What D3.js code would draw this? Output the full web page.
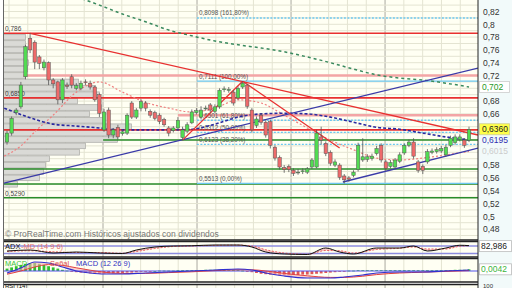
<!DOCTYPE html>
<html><head><meta charset="utf-8">
<script src="https://cdn.jsdelivr.net/npm/d3@7"></script>
<style>body{margin:0;background:#fff}svg{display:block;font-family:"Liberation Sans",Arial,sans-serif}</style>
</head><body><svg id="chart"></svg>
<script>
// candles
var opens  = [0.616,0.630,0.662,0.671,0.718,0.778,0.772,0.749,0.732,0.740,0.713,0.710,0.682,0.705,0.718,0.700,0.700,0.710,0.708,0.702,
  0.690,0.635,0.666,0.627,0.639,0.629,0.630,0.677,0.655,0.669,0.677,0.664,0.662,0.658,0.651,0.638,0.634,0.638,0.623,0.633,
  0.646,0.662,0.655,0.668,0.674,0.664,0.671,0.698,0.697,0.694,0.685,0.702,0.705,0.666,0.642,0.658,0.647,0.648,0.608,0.592,
  0.576,0.578,0.572,0.569,0.570,0.569,0.577,0.577,0.624,0.614,0.600,0.580,0.580,0.563,0.560,0.564,0.573,0.588,0.589,0.590,
  0.598,0.611,0.585,0.578,0.577,0.586,0.599,0.611,0.616,0.585,0.578,0.585,0.600,0.601,0.602,0.596,0.611,0.615,0.620,0.619,0.619];
var closes = [0.630,0.653,0.666,0.705,0.765,0.760,0.741,0.739,0.741,0.713,0.707,0.682,0.713,0.703,0.705,0.704,0.708,0.709,0.702,0.682,
  0.661,0.663,0.627,0.635,0.624,0.632,0.658,0.655,0.666,0.679,0.669,0.658,0.653,0.648,0.643,0.630,0.638,0.650,0.635,0.643,
  0.663,0.665,0.666,0.669,0.666,0.671,0.697,0.699,0.698,0.677,0.700,0.708,0.672,0.635,0.652,0.647,0.627,0.611,0.591,0.577,
  0.573,0.573,0.567,0.569,0.571,0.574,0.588,0.630,0.619,0.598,0.583,0.585,0.561,0.557,0.558,0.569,0.611,0.593,0.593,0.594,
  0.606,0.588,0.575,0.584,0.588,0.596,0.611,0.616,0.594,0.572,0.572,0.601,0.602,0.604,0.606,0.608,0.622,0.624,0.624,0.611,0.636];
var highs  = [0.634,0.656,0.669,0.710,0.768,0.786,0.775,0.752,0.745,0.742,0.716,0.712,0.716,0.709,0.722,0.708,0.712,0.714,0.712,0.704,
  0.692,0.668,0.670,0.638,0.643,0.636,0.661,0.680,0.669,0.683,0.680,0.667,0.665,0.661,0.654,0.641,0.641,0.655,0.640,0.647,
  0.667,0.669,0.672,0.673,0.677,0.675,0.700,0.703,0.702,0.697,0.703,0.7111,0.707,0.669,0.656,0.661,0.650,0.651,0.611,0.595,
  0.580,0.581,0.575,0.574,0.575,0.577,0.591,0.635,0.640,0.617,0.603,0.589,0.583,0.566,0.563,0.572,0.615,0.622,0.597,0.598,
  0.610,0.614,0.588,0.588,0.591,0.600,0.614,0.620,0.622,0.588,0.581,0.605,0.606,0.608,0.610,0.612,0.626,0.628,0.628,0.622,0.640];
var lows   = [0.612,0.626,0.658,0.668,0.714,0.755,0.730,0.730,0.728,0.705,0.700,0.675,0.677,0.699,0.700,0.697,0.697,0.705,0.698,0.679,
  0.655,0.632,0.622,0.622,0.620,0.626,0.627,0.652,0.652,0.664,0.664,0.654,0.650,0.644,0.640,0.625,0.631,0.634,0.619,0.630,
  0.644,0.659,0.652,0.665,0.662,0.661,0.668,0.694,0.693,0.673,0.682,0.699,0.668,0.631,0.638,0.643,0.623,0.606,0.587,0.573,
  0.568,0.569,0.563,0.565,0.566,0.566,0.574,0.575,0.612,0.594,0.579,0.577,0.557,0.5513,0.554,0.561,0.570,0.585,0.585,0.587,
  0.595,0.584,0.571,0.575,0.574,0.583,0.596,0.608,0.590,0.568,0.566,0.582,0.597,0.598,0.599,0.593,0.608,0.612,0.617,0.607,0.616];

// moving averages as [candle index, value]
var maBlue  = [[-0.6,0.669],[5,0.654],[10,0.644],[15,0.641],[20,0.638],[25,0.635],[30,0.635],[35,0.635],[40,0.636],[45,0.644],[50,0.655],
  [55,0.660],[60,0.661],[65,0.660],[70,0.655],[75,0.647],[80,0.639],[85,0.636],[90,0.630],[95,0.624],[100,0.6195]];
var maGreen = [[15,0.843],[20,0.830],[25,0.816],[30,0.804],[35,0.791],[40,0.782],[45,0.774],[50,0.768],[55,0.763],[60,0.757],[65,0.749],
  [70,0.740],[75,0.730],[80,0.721],[85,0.716],[90,0.713],[95,0.708],[100,0.702]];
var maRed   = [[-0.6,0.594],[3,0.610],[6,0.632],[10,0.658],[15,0.694],[20,0.710],[25,0.694],[30,0.678],[35,0.669],[40,0.663],[45,0.669],
  [50,0.682],[55,0.677],[60,0.658],[65,0.638],[70,0.619],[75,0.604],[80,0.591],[85,0.588],[90,0.591],[95,0.596],[100,0.6015]];

// drawn lines
var hLevels = [0.786, 0.72, 0.685, 0.658, 0.635, 0.6192, 0.574, 0.5505, 0.529];
var hStart  = [-0.7, 3.5, -0.7, 37, -0.7, 20.8, -0.7, -0.7, -0.7];
var hKind   = ["red", "pink", "red", "pink", "red", "green", "green", "green", "green"];
var hLabels = ["0,786", "", "0,6850", "", "", "", "", "", "0,5290"];

var fibLow = 0.5513, fibHigh = 0.7111, fibStart = 41.1;
var fibRatios = [0, 0.382, 0.5, 0.618, 1, 1.618];
var fibLabels = ["0,5513 (0,00%)", "0,6123 (38,20%)", "0,6312 (50,00%)", "0,6501 (61,80%)", "0,7111 (100,00%)", "0,8098 (161,80%)"];

var trendLines = [
  [[5, 0.786], [101.95, 0.627]],
  [[-0.65, 0.552], [101.95, 0.7317]],
  [[72.7, 0.5536], [101.95, 0.6067]],
  [[38, 0.619], [51, 0.7111]],
  [[51, 0.7111], [72, 0.6067]]
];
var trendKind = ["red", "blue", "blue", "red", "red"];

// volume by price
var profilePrices = [0.78,0.77,0.76,0.75,0.74,0.73,0.72,0.71,0.70,0.69,0.68,0.67,0.66,0.65,0.64,0.63,0.62,0.61,0.60,0.59,0.58,0.57,0.56,0.55];
var profileVolume = [22,22,24,22,25,24,22,75,92,96,74,98,86,100,128,112,114,82,76,46,42,40,36,14];

// oscillator panel
var oscIdx    = [0,5,10,15,20,25,28,32,36,40,45,50,53,56,60,65,69,72,75,80,85,88,91,95,98,100];
var oscMain   = [40,48,24,32,24,20,48,72,80,82,88,88,72,32,16,12,64,32,16,64,64,80,40,64,86,83];
var oscSignal = [36,42,34,28,28,22,36,60,76,80,85,87,80,50,24,14,44,42,24,52,62,72,56,56,78,82];
var oscLevels = [80, 20];

// MACD panel
var macdIdx    = [0,3,6,9,12,15,18,21,25,30,35,40,45,50,53,56,60,65,70,73,77,80,85,90,95,100];
var macdLine   = [-0.005,0.0075,0.0225,0.02,0.01,0,-0.005,-0.0075,-0.0075,-0.005,-0.0025,0,0.0025,0.005,0.0025,-0.005,-0.0125,-0.0175,-0.0175,-0.015,-0.01,-0.005,-0.0025,-0.0025,0,0.0025];
var macdSignal = [-0.008,0,0.01,0.016,0.014,0.008,0.002,-0.003,-0.006,-0.006,-0.004,-0.002,0.001,0.003,0.003,0,-0.006,-0.012,-0.016,-0.016,-0.013,-0.009,-0.005,-0.003,-0.001,0.001];
var macdHist = [0.006,0.009,0.012,0.015,0.018,0.020,0.020,0.018,0.015,0.012,
  0.009,0.006,0.003,0.001,-0.001,-0.003,-0.004,-0.005,-0.006,-0.006,
  -0.007,-0.007,-0.006,-0.006,-0.005,-0.005,-0.004,-0.004,-0.003,-0.002,
  -0.002,-0.001,0.000,0.001,0.001,0.001,0.001,0.002,0.002,0.002,
  0.002,0.002,0.002,0.003,0.003,0.003,0.003,0.003,0.002,0.002,
  0.002,0.001,-0.001,-0.003,-0.005,-0.007,-0.008,-0.009,-0.010,-0.011,
  -0.011,-0.011,-0.010,-0.010,-0.009,-0.009,-0.008,-0.007,-0.006,-0.005,
  -0.004,-0.003,-0.002,-0.001,0.001,0.001,0.002,0.002,0.002,0.002,
  0.002,0.002,0.002,0.002,0.002,0.002,0.002,0.002,0.002,0.002,
  0.002,0.002,0.002,0.002,0.002,0.002,0.002,0.003,0.003,0.003,0.0042];

var priceTicks = [0.48,0.5,0.52,0.54,0.56,0.58,0.66,0.68,0.72,0.74,0.76,0.78,0.8,0.82];
var lastValues = [0.702, 0.636, 0.6195, 0.6015];
var lastLabels = ["0,702", "0,6360", "0,6195", "0,6015"];

var W = 512, H = 288, L = 3.5, R = 478;
var colors = {red: "#e83030", pink: "#f3a5a5", green: "#2a8c2a", blue: "#3a3aa8", cyan: "#6cc8f0"};

var x = d3.scaleLinear().domain([0, 100]).range([7, 469]);
var y = d3.scaleLinear().domain([0.48, 0.82]).range([229.1, 11.5]);
var oscY = d3.scaleLinear().domain([0, 100]).range([256, 243.5]);
var macdY = d3.scaleLinear().domain([-0.0275, 0.0275]).range([282, 260]);
var volX = d3.scaleLinear().domain([0, 140]).range([L, L + 140]);
var locale = d3.formatLocale({decimal: ",", thousands: ".", grouping: [3], currency: ["", ""]});
var fmt = locale.format(".2~f");

var svg = d3.select("#chart").attr("width", W).attr("height", H);
svg.append("rect").attr("width", W).attr("height", H).attr("fill", "#fff");
svg.append("rect").attr("x", R).attr("width", W - R).attr("height", H).attr("fill", "#f2fafa");

var panels = [[0, 240], [241.5, 257], [258.5, 282], [284.5, 300]];
var defs = svg.append("defs");
panels.forEach(function(p, i) {
  svg.append("rect").attr("x", L).attr("y", p[0]).attr("width", R - L).attr("height", p[1] - p[0]).attr("fill", "#fffff3");
  defs.append("clipPath").attr("id", "clip" + i)
    .append("rect").attr("x", L).attr("y", p[0]).attr("width", R - L).attr("height", p[1] - p[0]);
});

// grid
var gridIdx = d3.range(0.43, 102, 4.07);
panels.forEach(function(p, i) {
  svg.append("g").attr("clip-path", "url(#clip" + i + ")").selectAll("line")
    .data(gridIdx).enter().append("line")
      .attr("x1", function(d) { return x(d); }).attr("x2", function(d) { return x(d); })
      .attr("y1", p[0]).attr("y2", p[1])
      .attr("stroke", function(d, k) { return (k % 5 == 0 && k > 0) ? "#aaa9a0" : "#e4e4d2"; })
      .attr("stroke-width", 1);
});
svg.append("g").attr("clip-path", "url(#clip0)").selectAll("line")
  .data(d3.range(0.44, 0.86, 0.01)).enter().append("line")
    .attr("x1", L).attr("x2", R)
    .attr("y1", function(d) { return y(d); }).attr("y2", function(d) { return y(d); })
    .attr("stroke", "#e4e4d2");

var main = svg.append("g").attr("clip-path", "url(#clip0)");

// volume profile
var binH = y(0) - y(0.01);
main.selectAll(".vol").data(profilePrices).enter().append("rect")
  .attr("x", L).attr("y", function(d) { return y(d + 0.005) + 0.4; })
  .attr("width", function(d, i) { return volX(profileVolume[i]) - L; })
  .attr("height", binH - 0.8)
  .attr("fill", "#dadad6").attr("stroke", "#aaaaa6").attr("stroke-width", 0.7);

// horizontal levels
hLevels.forEach(function(v, i) {
  main.append("line").attr("x1", x(hStart[i])).attr("x2", R)
    .attr("y1", y(v)).attr("y2", y(v))
    .attr("stroke", colors[hKind[i]])
    .attr("stroke-width", hKind[i] == "pink" ? 2.5 : 1.6);
  if (hLabels[i]) main.append("text").attr("x", 5).attr("y", y(v) - 2)
    .attr("font-size", 6.5).attr("fill", "#444").text(hLabels[i]);
});

// fibonacci
fibRatios.forEach(function(r, i) {
  var v = fibLow + r * (fibHigh - fibLow);
  main.append("line").attr("x1", x(fibStart)).attr("x2", R)
    .attr("y1", y(v)).attr("y2", y(v))
    .attr("stroke", colors.cyan).attr("stroke-width", 1.3)
    .attr("stroke-dasharray", (r == 0 || r == 1) ? null : "2,1.5");
  main.append("text").attr("x", x(fibStart) + 2).attr("y", y(v) - 2.5)
    .attr("font-size", 6.3).attr("fill", "#555").text(fibLabels[i]);
});

// moving averages
var maLine = d3.line().x(function(d) { return x(d[0]); }).y(function(d) { return y(d[1]); }).curve(d3.curveMonotoneX);
main.append("path").attr("d", maLine(maGreen)).attr("fill", "none")
  .attr("stroke", "#3a8a5e").attr("stroke-width", 1.5).attr("stroke-dasharray", "3,3");
main.append("path").attr("d", maLine(maRed)).attr("fill", "none")
  .attr("stroke", "#f08080").attr("stroke-width", 1.2).attr("stroke-dasharray", "2,2");
main.append("path").attr("d", maLine(maBlue)).attr("fill", "none")
  .attr("stroke", "#2a2aa0").attr("stroke-width", 1.6).attr("stroke-dasharray", "3,2");

// trend lines
trendLines.forEach(function(t, i) {
  main.append("line")
    .attr("x1", x(t[0][0])).attr("y1", y(t[0][1]))
    .attr("x2", x(t[1][0])).attr("y2", y(t[1][1]))
    .attr("stroke", colors[trendKind[i]]).attr("stroke-width", 1.3);
});

// candles
var cw = 3.4;
var candle = main.selectAll(".c").data(opens).enter().append("g");
candle.append("line")
  .attr("x1", function(d, i) { return x(i); }).attr("x2", function(d, i) { return x(i); })
  .attr("y1", function(d, i) { return y(highs[i]); }).attr("y2", function(d, i) { return y(lows[i]); })
  .attr("stroke", "#555").attr("stroke-width", 0.8);
candle.append("rect")
  .attr("x", function(d, i) { return x(i) - cw / 2; })
  .attr("y", function(d, i) { return y(Math.max(d, closes[i])); })
  .attr("width", cw)
  .attr("height", function(d, i) { return Math.max(0.8, Math.abs(y(d) - y(closes[i]))); })
  .attr("fill", function(d, i) { return closes[i] >= d ? "#52dc52" : "#ee6a6a"; })
  .attr("stroke", "#555").attr("stroke-width", 0.5);

main.append("text").attr("x", 5).attr("y", 237).attr("font-size", 8.5).attr("fill", "#777")
  .text("© ProRealTime.com  Históricos ajustados con dividendos");

// price axis
var axis = svg.append("g").attr("transform", "translate(" + (R + 2) + ",0)")
  .call(d3.axisRight(y).tickValues(priceTicks).tickSize(0).tickFormat(fmt));
axis.select(".domain").remove();
axis.selectAll("text").attr("font-size", 8.5).attr("fill", "#333").attr("font-family", "Liberation Sans, Arial");

var boxStyle = [{fill: "#fff", text: "#2a9a2a", stroke: "#ccc"}, {fill: "#ffff4a", text: "#222", stroke: "#cc9"},
  {fill: "none", text: "#3030b0", stroke: "none"}, {fill: "none", text: "#ccc", stroke: "none"}];
lastValues.forEach(function(v, i) {
  svg.append("rect").attr("x", R + 1.5).attr("y", y(v) - 5.5).attr("width", 30).attr("height", 11)
    .attr("fill", boxStyle[i].fill).attr("stroke", boxStyle[i].stroke).attr("stroke-width", 0.8);
  svg.append("text").attr("x", R + 4).attr("y", y(v) + 3).attr("font-size", 8.5)
    .attr("fill", boxStyle[i].text).text(lastLabels[i]);
});

// oscillator panel
var osc = svg.append("g").attr("clip-path", "url(#clip1)");
var oscData = oscIdx.map(function(d, i) { return [d, oscMain[i], oscSignal[i]]; });
osc.append("path").attr("d", d3.area().x(function(d) { return x(d[0]); })
    .y0(function(d) { return oscY(d[2]); }).y1(function(d) { return oscY(d[1]); }).curve(d3.curveMonotoneX)(oscData))
  .attr("fill", "#f6b4b4").attr("opacity", 0.7);
oscLevels.forEach(function(v) {
  osc.append("line").attr("x1", L).attr("x2", R).attr("y1", oscY(v)).attr("y2", oscY(v))
    .attr("stroke", "#8c8ce0").attr("stroke-width", 1.5);
});
osc.append("path").attr("d", d3.line().x(function(d) { return x(d[0]); }).y(function(d) { return oscY(d[2]); }).curve(d3.curveMonotoneX)(oscData))
  .attr("fill", "none").attr("stroke", "#e86060").attr("stroke-width", 1).attr("stroke-dasharray", "2,1.5");
osc.append("path").attr("d", d3.line().x(function(d) { return x(d[0]); }).y(function(d) { return oscY(d[1]); }).curve(d3.curveMonotoneX)(oscData))
  .attr("fill", "none").attr("stroke", "#111").attr("stroke-width", 1);
osc.append("text").attr("x", 5).attr("y", 249).attr("font-size", 7.5).attr("fill", "#111").text("ADX");
osc.append("text").attr("x", 21).attr("y", 249).attr("font-size", 7.5).attr("fill", "#e87070").text("-MD (14 9 6)");
svg.append("rect").attr("x", R + 1.5).attr("y", oscY(oscMain[oscMain.length - 1]) - 5).attr("width", 32).attr("height", 11)
  .attr("fill", "#fff").attr("stroke", "#bbb").attr("stroke-width", 0.8);
svg.append("text").attr("x", R + 3).attr("y", oscY(oscMain[oscMain.length - 1]) + 3.5).attr("font-size", 8.5)
  .attr("fill", "#222").text("82,986");

// MACD panel
var mp = svg.append("g").attr("clip-path", "url(#clip2)");
var macdData = macdIdx.map(function(d, i) { return [d, macdLine[i], macdSignal[i]]; });
mp.selectAll(".h").data(macdHist).enter().append("rect")
  .attr("x", function(d, i) { return x(i) - 1.4; }).attr("width", 2.8)
  .attr("y", function(d) { return macdY(Math.max(0, d)); })
  .attr("height", function(d) { return Math.max(0.8, Math.abs(macdY(d) - macdY(0))); })
  .attr("fill", function(d) { return d >= 0 ? "#2fbf2f" : "#e05656"; });
mp.append("path").attr("d", d3.area().x(function(d) { return x(d[0]); })
    .y0(function(d) { return macdY(d[2]); }).y1(function(d) { return macdY(d[1]); }).curve(d3.curveMonotoneX)(macdData))
  .attr("fill", "#f6b4b4").attr("opacity", 0.6);
mp.append("line").attr("x1", L).attr("x2", R).attr("y1", macdY(0)).attr("y2", macdY(0))
  .attr("stroke", "#5555ee").attr("stroke-width", 1.2);
mp.append("path").attr("d", d3.line().x(function(d) { return x(d[0]); }).y(function(d) { return macdY(d[2]); }).curve(d3.curveMonotoneX)(macdData))
  .attr("fill", "none").attr("stroke", "#e04040").attr("stroke-width", 1);
mp.append("path").attr("d", d3.line().x(function(d) { return x(d[0]); }).y(function(d) { return macdY(d[1]); }).curve(d3.curveMonotoneX)(macdData))
  .attr("fill", "none").attr("stroke", "#3030d0").attr("stroke-width", 1.2);
var legend = [["MACD", "#3cc43c", 5], ["Señal", "#e05050", 50], ["MACD (12 26 9)", "#3030c0", 76]];
legend.forEach(function(l) {
  mp.append("text").attr("x", l[2]).attr("y", 266).attr("font-size", 7.5).attr("fill", l[1]).text(l[0]);
});
var lastHist = macdHist[macdHist.length - 1];
svg.append("rect").attr("x", R + 1.5).attr("y", macdY(lastHist) - 5.5).attr("width", 32).attr("height", 11)
  .attr("fill", "#fff").attr("stroke", "#bbb").attr("stroke-width", 0.8);
svg.append("text").attr("x", R + 3).attr("y", macdY(lastHist) + 3).attr("font-size", 8.5)
  .attr("fill", "#3cb43c").text(locale.format(".4f")(lastHist));

// RSI panel top
svg.append("text").attr("x", 5).attr("y", 288).attr("font-size", 6).attr("fill", "#111").text("RSI (14)");
svg.append("text").attr("x", R + 5).attr("y", 288).attr("font-size", 6).attr("fill", "#333").text("100");

// frames
panels.forEach(function(p) {
  svg.append("line").attr("x1", L).attr("x2", R).attr("y1", p[1]).attr("y2", p[1]).attr("stroke", "#222").attr("stroke-width", 1.3);
  svg.append("line").attr("x1", L).attr("x2", R).attr("y1", p[0]).attr("y2", p[0]).attr("stroke", "#222").attr("stroke-width", p[0] == 0 ? 0 : 1.3);
});
svg.append("line").attr("x1", L).attr("x2", L).attr("y1", 0).attr("y2", H).attr("stroke", "#666").attr("stroke-width", 1);
svg.append("line").attr("x1", R).attr("x2", R).attr("y1", 0).attr("y2", H).attr("stroke", "#222").attr("stroke-width", 1);
</script></body></html>
